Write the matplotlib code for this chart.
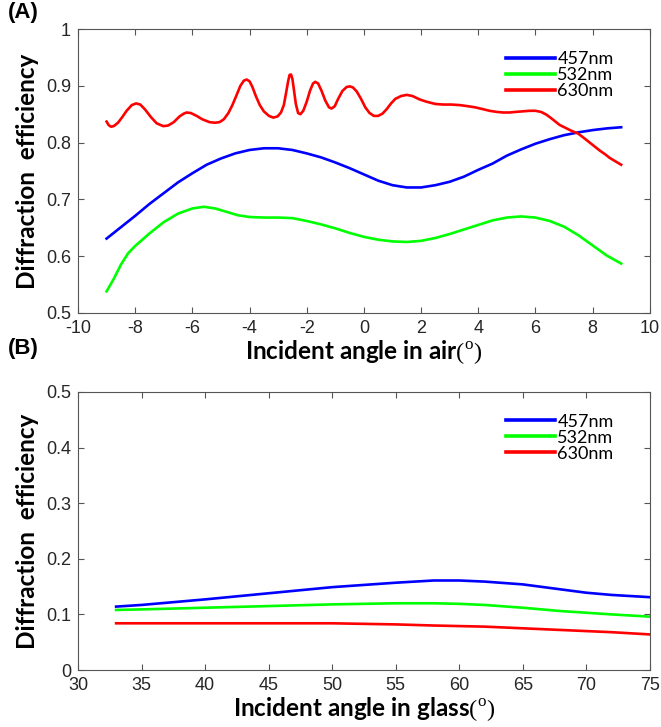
import numpy as np
import matplotlib.pyplot as plt

# (A) diffraction efficiency vs incident angle in air
air_457_x = [-9.0, -8.5, -8.0, -7.5, -7.0, -6.5, -6.0, -5.5, -5.0, -4.5, -4.0, -3.5,
             -3.0, -2.5, -2.0, -1.5, -1.0, -0.5, 0.0, 0.5, 1.0, 1.5, 2.0, 2.5, 3.0,
             3.5, 4.0, 4.5, 5.0, 5.5, 6.0, 6.5, 7.0, 7.5, 8.0, 8.5, 9.0]
air_457_y = [0.631, 0.651, 0.671, 0.692, 0.711, 0.730, 0.746, 0.761, 0.772, 0.781,
             0.787, 0.790, 0.790, 0.787, 0.781, 0.774, 0.765, 0.755, 0.744, 0.733,
             0.725, 0.721, 0.721, 0.725, 0.731, 0.740, 0.752, 0.763, 0.777, 0.788,
             0.798, 0.806, 0.813, 0.818, 0.822, 0.825, 0.827]

air_532_x = [-9.0, -8.75, -8.5, -8.25, -8.0, -7.5, -7.0, -6.5, -6.0, -5.6, -5.2, -4.8,
             -4.4, -4.0, -3.5, -3.0, -2.5, -2.0, -1.5, -1.0, -0.5, 0.0, 0.5, 1.0, 1.5,
             2.0, 2.5, 3.0, 3.5, 4.0, 4.5, 5.0, 5.5, 6.0, 6.5, 7.0, 7.5, 8.0, 8.5, 9.0]
air_532_y = [0.538, 0.560, 0.585, 0.605, 0.618, 0.640, 0.660, 0.675, 0.684, 0.687,
             0.684, 0.678, 0.672, 0.669, 0.668, 0.668, 0.667, 0.662, 0.656, 0.649,
             0.641, 0.634, 0.629, 0.626, 0.625, 0.627, 0.632, 0.639, 0.647, 0.655,
             0.663, 0.668, 0.670, 0.668, 0.662, 0.652, 0.637, 0.619, 0.601, 0.587]

air_630_x = [-9.0, -8.93, -8.85, -8.75, -8.6, -8.45, -8.3, -8.12, -7.97, -7.82, -7.65,
             -7.45, -7.25, -7.02, -6.85, -6.65, -6.45, -6.3, -6.2, -6.05, -5.85, -5.65,
             -5.4, -5.21, -5.05, -4.9, -4.74, -4.6, -4.45, -4.32, -4.2, -4.1, -4.0,
             -3.9, -3.78, -3.64, -3.5, -3.32, -3.17, -3.02, -2.9, -2.8, -2.72, -2.65,
             -2.6, -2.55, -2.5, -2.45, -2.38, -2.3, -2.22, -2.12, -2.0, -1.88, -1.78,
             -1.7, -1.6, -1.48, -1.35, -1.22, -1.13, -1.02, -0.9, -0.75, -0.6, -0.49,
             -0.38, -0.25, -0.1, 0.05, 0.2, 0.35, 0.5, 0.65, 0.8, 0.95, 1.1, 1.3, 1.5,
             1.7, 1.95, 2.19, 2.5, 2.77, 3.05, 3.36, 3.65, 3.9, 4.15, 4.4, 4.65, 4.87,
             5.1, 5.3, 5.55, 5.8, 6.0, 6.2, 6.39, 6.55, 6.7, 6.85, 7.05, 7.25, 7.49,
             7.7, 7.9, 8.1, 8.25, 8.45, 8.6, 8.8, 9.0]
air_630_y = [0.837, 0.831, 0.828, 0.829, 0.835, 0.845, 0.856, 0.866, 0.869, 0.867,
             0.858, 0.845, 0.834, 0.829, 0.830, 0.836, 0.846, 0.851, 0.853, 0.852,
             0.847, 0.841, 0.836, 0.835, 0.836, 0.841, 0.852, 0.866, 0.884, 0.900,
             0.909, 0.911, 0.908, 0.898, 0.882, 0.866, 0.855, 0.847, 0.844, 0.846,
             0.853, 0.866, 0.888, 0.908, 0.919, 0.920, 0.912, 0.894, 0.868, 0.852,
             0.850, 0.856, 0.872, 0.892, 0.904, 0.907, 0.904, 0.891, 0.874, 0.862,
             0.860, 0.864, 0.877, 0.891, 0.898, 0.899, 0.897, 0.890, 0.877, 0.862,
             0.852, 0.847, 0.847, 0.851, 0.859, 0.869, 0.877, 0.882, 0.884, 0.882,
             0.876, 0.872, 0.868, 0.867, 0.867, 0.866, 0.864, 0.862, 0.859, 0.856,
             0.854, 0.853, 0.853, 0.854, 0.855, 0.856, 0.856, 0.854, 0.849, 0.843,
             0.837, 0.831, 0.826, 0.821, 0.816, 0.808, 0.800, 0.792, 0.786, 0.779,
             0.773, 0.767, 0.761]

# (B) diffraction efficiency vs incident angle in glass
glass_x = [33, 35, 40, 45, 50, 55, 58, 60, 62, 65, 68, 70, 72, 75]
glass_457 = [0.114, 0.117, 0.127, 0.138, 0.149, 0.157, 0.161, 0.161, 0.159, 0.154,
             0.145, 0.139, 0.135, 0.131]
glass_532 = [0.108, 0.109, 0.112, 0.115, 0.118, 0.120, 0.120, 0.119, 0.117, 0.112,
             0.106, 0.103, 0.100, 0.096]
glass_630 = [0.084, 0.084, 0.084, 0.084, 0.084, 0.082, 0.080, 0.079, 0.078, 0.075,
             0.072, 0.070, 0.068, 0.064]

labels = ['457nm', '532nm', '630nm']
colors = ['#0000ff', '#00ff00', '#ff0000']

plt.rcParams['font.family'] = ['Liberation Sans', 'DejaVu Sans']
plt.rcParams['axes.unicode_minus'] = False
plt.rcParams['mathtext.fontset'] = 'custom'
plt.rcParams['mathtext.rm'] = 'Liberation Serif'

fig = plt.figure(figsize=(6.61, 7.27), dpi=100)
ax1 = fig.add_axes([0.118, 0.5695, 0.865, 0.3906])
ax2 = fig.add_axes([0.118, 0.0784, 0.865, 0.3824])

label_font = dict(family=['Lato', 'DejaVu Sans'], fontweight='bold', fontsize=17.5)


def style_axes(ax):
    for s in ax.spines.values():
        s.set_color('#555555')
        s.set_linewidth(0.8)
    ax.tick_params(direction='in', top=True, right=True, length=4.5,
                   width=0.8, color='#555555', labelsize=13,
                   labelcolor='#262626')
    ax.tick_params(axis='x', pad=5)
    ax.tick_params(axis='y', pad=5)


for xs, ys, c, lab in [(air_457_x, air_457_y, colors[0], labels[0]),
                       (air_532_x, air_532_y, colors[1], labels[1]),
                       (air_630_x, air_630_y, colors[2], labels[2])]:
    ax1.plot(xs, ys, color=c, lw=1.9, label=lab)

ax1.set_xlim(-10, 10)
ax1.set_ylim(0.5, 1.0)
ax1.set_xticks(np.arange(-10, 11, 2))
ax1.set_yticks([0.5, 0.6, 0.7, 0.8, 0.9, 1.0])
ax1.set_yticklabels(['0.5', '0.6', '0.7', '0.8', '0.9', '1'])
style_axes(ax1)
ax1.set_xlabel(r'Incident angle in air$(^{\rm o})$', labelpad=1, **label_font)
ax1.set_ylabel('Diffraction  efficiency', labelpad=5, **label_font)

for ys, c, lab in zip([glass_457, glass_532, glass_630], colors, labels):
    ax2.plot(glass_x, ys, color=c, lw=1.9, label=lab)

ax2.set_xlim(30, 75)
ax2.set_ylim(0, 0.5)
ax2.set_xticks(np.arange(30, 76, 5))
ax2.set_yticks([0, 0.1, 0.2, 0.3, 0.4, 0.5])
ax2.set_yticklabels(['0', '0.1', '0.2', '0.3', '0.4', '0.5'])
style_axes(ax2)
ax2.set_xlabel(r'Incident angle in glass$(^{\rm o})$', labelpad=1, **label_font)
ax2.set_ylabel('Diffraction  efficiency', labelpad=5, **label_font)

for ax in (ax1, ax2):
    leg = ax.legend(loc='upper right', bbox_to_anchor=(0.965, 0.98), frameon=False,
                    handlelength=2.7, handletextpad=0.15, labelspacing=0.0,
                    prop={'family': ['Lato', 'DejaVu Sans'], 'size': 13})
    for h in leg.get_lines():
        h.set_linewidth(2.6)

fig.text(0.012, 0.997, '(A)', fontsize=16, fontweight='bold', va='top', ha='left')
fig.text(0.012, 0.535, '(B)', fontsize=16, fontweight='bold', va='top', ha='left')

fig.savefig('out.png', dpi=100)
